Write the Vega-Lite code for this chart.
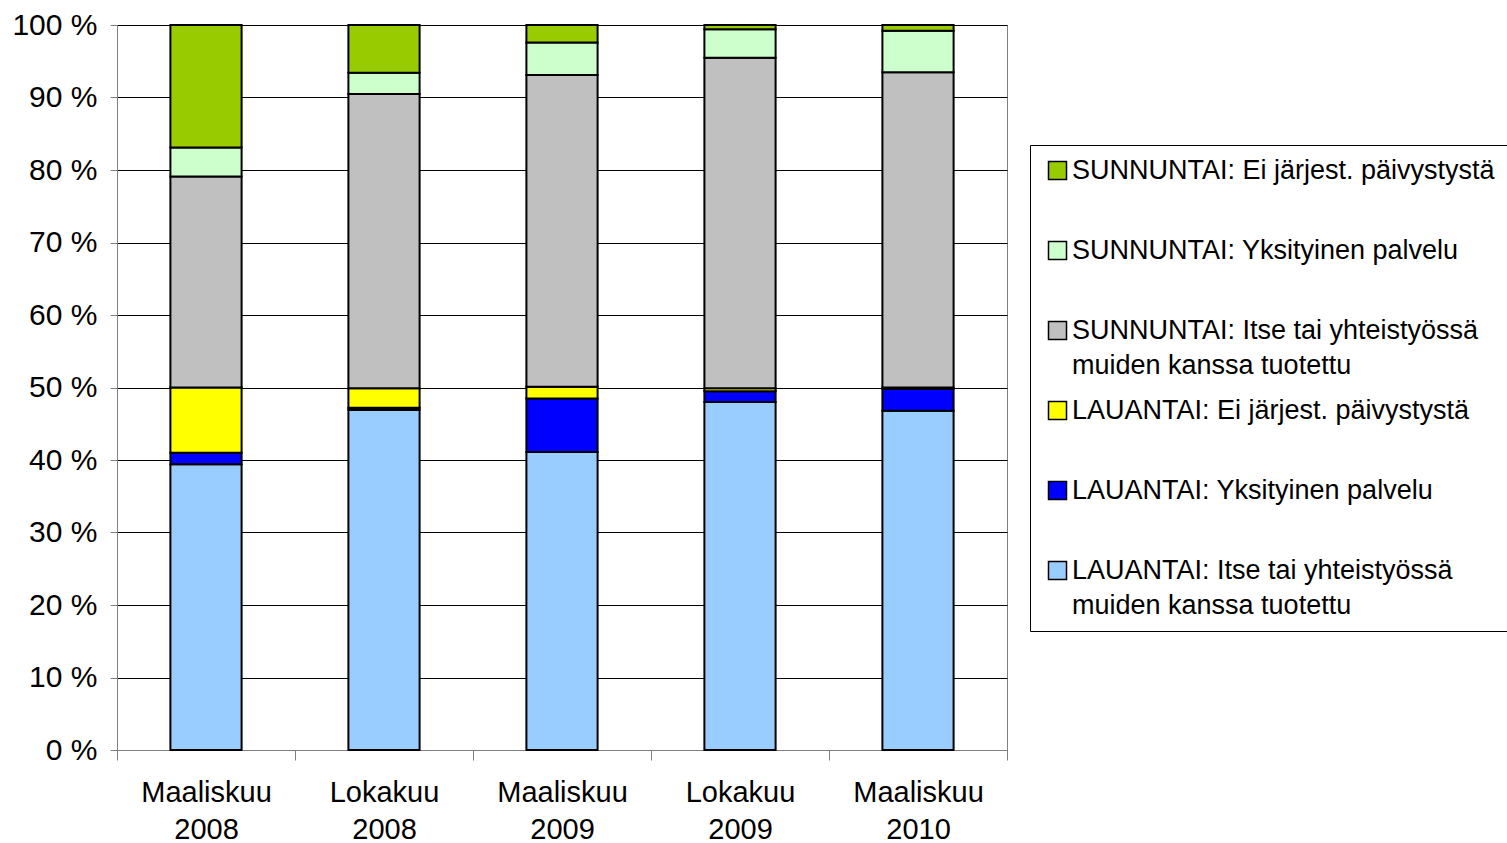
{
  "$schema": "https://vega.github.io/schema/vega-lite/v6.json",
  "width": 890,
  "height": 725,
  "autosize": {"type": "none"},
  "padding": {"left": 117, "top": 25, "right": 500, "bottom": 93},
  "background": "white",
  "config": {
    "view": {"stroke": "#808080", "strokeWidth": 1},
    "font": "Liberation Sans"
  },
  "data": {
    "values": [
      {"aika": "Maaliskuu 2008", "sarja": "LAUANTAI: Itse tai yhteistyössä muiden kanssa tuotettu", "i": 1, "osuus": 39.4},
      {"aika": "Maaliskuu 2008", "sarja": "LAUANTAI: Yksityinen palvelu", "i": 2, "osuus": 1.6},
      {"aika": "Maaliskuu 2008", "sarja": "LAUANTAI: Ei järjest. päivystystä", "i": 3, "osuus": 9.0},
      {"aika": "Maaliskuu 2008", "sarja": "SUNNUNTAI: Itse tai yhteistyössä muiden kanssa tuotettu", "i": 4, "osuus": 29.1},
      {"aika": "Maaliskuu 2008", "sarja": "SUNNUNTAI: Yksityinen palvelu", "i": 5, "osuus": 4.0},
      {"aika": "Maaliskuu 2008", "sarja": "SUNNUNTAI: Ei järjest. päivystystä", "i": 6, "osuus": 16.9},
      {"aika": "Lokakuu 2008", "sarja": "LAUANTAI: Itse tai yhteistyössä muiden kanssa tuotettu", "i": 1, "osuus": 46.9},
      {"aika": "Lokakuu 2008", "sarja": "LAUANTAI: Yksityinen palvelu", "i": 2, "osuus": 0.3},
      {"aika": "Lokakuu 2008", "sarja": "LAUANTAI: Ei järjest. päivystystä", "i": 3, "osuus": 2.7},
      {"aika": "Lokakuu 2008", "sarja": "SUNNUNTAI: Itse tai yhteistyössä muiden kanssa tuotettu", "i": 4, "osuus": 40.6},
      {"aika": "Lokakuu 2008", "sarja": "SUNNUNTAI: Yksityinen palvelu", "i": 5, "osuus": 2.9},
      {"aika": "Lokakuu 2008", "sarja": "SUNNUNTAI: Ei järjest. päivystystä", "i": 6, "osuus": 6.6},
      {"aika": "Maaliskuu 2009", "sarja": "LAUANTAI: Itse tai yhteistyössä muiden kanssa tuotettu", "i": 1, "osuus": 41.1},
      {"aika": "Maaliskuu 2009", "sarja": "LAUANTAI: Yksityinen palvelu", "i": 2, "osuus": 7.4},
      {"aika": "Maaliskuu 2009", "sarja": "LAUANTAI: Ei järjest. päivystystä", "i": 3, "osuus": 1.6},
      {"aika": "Maaliskuu 2009", "sarja": "SUNNUNTAI: Itse tai yhteistyössä muiden kanssa tuotettu", "i": 4, "osuus": 43.0},
      {"aika": "Maaliskuu 2009", "sarja": "SUNNUNTAI: Yksityinen palvelu", "i": 5, "osuus": 4.5},
      {"aika": "Maaliskuu 2009", "sarja": "SUNNUNTAI: Ei järjest. päivystystä", "i": 6, "osuus": 2.4},
      {"aika": "Lokakuu 2009", "sarja": "LAUANTAI: Itse tai yhteistyössä muiden kanssa tuotettu", "i": 1, "osuus": 48.0},
      {"aika": "Lokakuu 2009", "sarja": "LAUANTAI: Yksityinen palvelu", "i": 2, "osuus": 1.5},
      {"aika": "Lokakuu 2009", "sarja": "LAUANTAI: Ei järjest. päivystystä", "i": 3, "osuus": 0.4},
      {"aika": "Lokakuu 2009", "sarja": "SUNNUNTAI: Itse tai yhteistyössä muiden kanssa tuotettu", "i": 4, "osuus": 45.6},
      {"aika": "Lokakuu 2009", "sarja": "SUNNUNTAI: Yksityinen palvelu", "i": 5, "osuus": 3.9},
      {"aika": "Lokakuu 2009", "sarja": "SUNNUNTAI: Ei järjest. päivystystä", "i": 6, "osuus": 0.6},
      {"aika": "Maaliskuu 2010", "sarja": "LAUANTAI: Itse tai yhteistyössä muiden kanssa tuotettu", "i": 1, "osuus": 46.8},
      {"aika": "Maaliskuu 2010", "sarja": "LAUANTAI: Yksityinen palvelu", "i": 2, "osuus": 3.0},
      {"aika": "Maaliskuu 2010", "sarja": "LAUANTAI: Ei järjest. päivystystä", "i": 3, "osuus": 0.2},
      {"aika": "Maaliskuu 2010", "sarja": "SUNNUNTAI: Itse tai yhteistyössä muiden kanssa tuotettu", "i": 4, "osuus": 43.5},
      {"aika": "Maaliskuu 2010", "sarja": "SUNNUNTAI: Yksityinen palvelu", "i": 5, "osuus": 5.7},
      {"aika": "Maaliskuu 2010", "sarja": "SUNNUNTAI: Ei järjest. päivystystä", "i": 6, "osuus": 0.8}
    ]
  },
  "mark": {"type": "bar", "stroke": "black", "strokeWidth": 2, "width": {"band": 0.4}},
  "encoding": {
    "x": {
      "field": "aika",
      "type": "nominal",
      "sort": null,
      "scale": {"paddingInner": 0, "paddingOuter": 0},
      "axis": {
        "title": null,
        "labelAngle": 0,
        "labelExpr": "split(datum.label, ' ')",
        "labelFont": "Liberation Sans",
        "labelFontSize": 29,
        "labelColor": "black",
        "labelLineHeight": 37,
        "labelBaseline": "top",
        "labelPadding": 18,
        "tickBand": "extent",
        "tickSize": 10,
        "tickColor": "#808080",
        "domainColor": "#808080",
        "grid": false
      }
    },
    "y": {
      "field": "osuus",
      "type": "quantitative",
      "stack": "zero",
      "scale": {"domain": [0, 100]},
      "axis": {
        "title": null,
        "values": [0, 10, 20, 30, 40, 50, 60, 70, 80, 90, 100],
        "labelExpr": "datum.value + ' %'",
        "labelFont": "Liberation Sans",
        "labelFontSize": 30,
        "labelColor": "black",
        "labelPadding": 13,
        "tickSize": 7,
        "tickColor": "#808080",
        "domainColor": "#808080",
        "grid": true,
        "gridColor": "black",
        "gridOpacity": 1,
        "gridWidth": 1
      }
    },
    "color": {
      "field": "sarja",
      "type": "nominal",
      "scale": {
        "domain": [
          "SUNNUNTAI: Ei järjest. päivystystä",
          "SUNNUNTAI: Yksityinen palvelu",
          "SUNNUNTAI: Itse tai yhteistyössä muiden kanssa tuotettu",
          "LAUANTAI: Ei järjest. päivystystä",
          "LAUANTAI: Yksityinen palvelu",
          "LAUANTAI: Itse tai yhteistyössä muiden kanssa tuotettu"
        ],
        "range": ["#99CC00", "#CCFFCC", "#C0C0C0", "#FFFF00", "#0000FF", "#99CCFF"]
      },
      "legend": {
        "orient": "none",
        "legendX": 913,
        "legendY": 120,
        "title": null,
        "strokeColor": "black",
        "fillColor": "white",
        "padding": 12,
        "symbolType": "square",
        "symbolSize": 324,
        "symbolStrokeColor": "black",
        "symbolStrokeWidth": 1.5,
        "symbolOpacity": 1,
        "symbolOffset": 2,
        "labelOffset": 1,
        "labelFont": "Liberation Sans",
        "labelFontSize": 27,
        "labelColor": "black",
        "labelLimit": 1000,
        "rowPadding": 17,
        "labelExpr": "indexof(datum.label, ' muiden') > 0 ? [slice(datum.label, 0, indexof(datum.label, ' muiden')), 'muiden kanssa tuotettu'] : [datum.label, '']",
        "encode": {
          "labels": {"update": {"lineHeight": {"value": 35}}}
        }
      }
    },
    "order": {"field": "i", "type": "quantitative", "sort": "ascending"}
  }
}
